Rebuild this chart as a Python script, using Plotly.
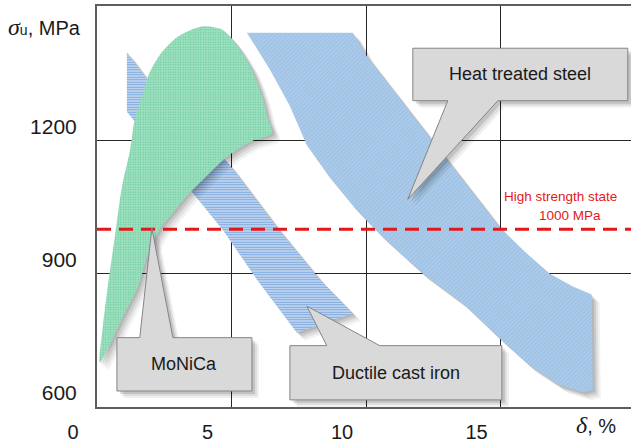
import plotly.graph_objects as go

# ---------------- data ----------------
x_ticks = [0, 5, 10, 15]
x_tick_labels = ["0", "5", "10", "15"]
y_ticks = [600, 900, 1200]
y_tick_labels = ["600", "900", "1200"]

strength_threshold = 1000  # MPa, "High strength state"

# Heat treated steel region (elongation %, UTS MPa)
steel_elong = [5.57, 9.51, 10.03, 14.97, 15.83, 16.83, 17.69, 18.39, 18.43, 18.06,
               17.2, 16.09, 14.86, 13.6, 12.11, 10.62, 9.66, 8.65, 7.8, 7.16, 6.42]
steel_uts = [1442, 1442, 1389, 1004, 953, 900, 871, 853, 638, 633,
             649, 693, 760, 833, 900, 982, 1042, 1116, 1189, 1278, 1360]

# Ductile cast iron region
iron_elong = [1.11, 1.78, 4.94, 6.69, 8.28, 9.51, 7.43, 5.94, 4.68, 3.45, 1.11]
iron_uts = [1398, 1344, 1144, 1004, 887, 811, 767, 887, 998, 1089, 1264]

# MoNiCa region
monica_elong = [0.1, 0.22, 0.4, 0.66, 0.92, 1.22, 1.41, 1.67, 1.96, 2.41, 3.0, 3.9,
                4.64, 5.13, 5.75, 6.13, 6.35, 6.5, 5.75, 5.12, 4.64, 3.9, 3.38,
                2.89, 2.33, 1.89, 1.52, 0.92, 0.4, 0.1]
monica_uts = [700, 782, 871, 982, 1093, 1176, 1249, 1300, 1353, 1398, 1433, 1456,
              1449, 1420, 1360, 1300, 1249, 1216, 1198, 1176, 1153, 1109, 1078,
              1042, 1000, 944, 871, 798, 731, 700]

# Callouts: (label, box x0, x1, box top y, box bottom y, pointer base xL, xR, side, tip x, tip y)
callouts = [
    ("Heat treated steel", 11.74, 19.73, 1407, 1289, 13.04, 14.90, "bottom", 11.55, 1067),
    ("MoNiCa", 0.74, 5.76, 756, 636, 1.59, 2.82, "top", 2.04, 1002),
    ("Ductile cast iron", 7.17, 15.05, 738, 616, 8.54, 10.51, "top", 7.80, 827),
]

# ---------------- layout geometry ----------------
W, H = 631, 443
ML, MR, MT, MB = 97, 0, 6, 31
XR = [0, 19.85]
YR = [600, 1502]
px_x = (W - ML - MR) / (XR[1] - XR[0])
px_y = (H - MT - MB) / (YR[1] - YR[0])


def shift(xs, ys, dx_px, dy_px):
    return [x + dx_px / px_x for x in xs], [y - dy_px / px_y for y in ys]


fig = go.Figure()


def add_region(xs, ys, pattern, shape_kind="linear"):
    for off, a in [(8, 0.05), (6, 0.07), (4, 0.09), (2, 0.10)]:
        sx, sy = shift(xs, ys, off, off)
        fig.add_trace(go.Scatter(x=sx, y=sy, mode="lines", fill="toself",
                                 fillcolor=f"rgba(0,0,0,{a})",
                                 line=dict(width=0, shape=shape_kind, smoothing=0.8),
                                 hoverinfo="skip", showlegend=False))
    fig.add_trace(go.Scatter(x=xs, y=ys, mode="lines", fill="toself",
                             fillcolor=pattern["bgcolor"],
                             fillpattern=pattern,
                             line=dict(width=0, shape=shape_kind, smoothing=0.8),
                             hoverinfo="skip", showlegend=False))


add_region(steel_elong, steel_uts,
           dict(shape="/", bgcolor="#abcbea", fgcolor="#9bbde2", size=3, solidity=0.3,
                fillmode="replace"))
add_region(iron_elong, iron_uts,
           dict(shape="-", bgcolor="#e6effa", fgcolor="#7aa6de", size=2.5, solidity=0.6,
                fillmode="replace"))
add_region(monica_elong, monica_uts,
           dict(shape=".", bgcolor="#9be0bf", fgcolor="#62c295", size=2.5, solidity=0.2,
                fillmode="replace"), shape_kind="spline")

shapes = []
# high-strength dashed line
shapes.append(dict(type="line", xref="paper", x0=0, x1=1, yref="y",
                   y0=strength_threshold, y1=strength_threshold,
                   line=dict(color="#e3181b", width=3, dash="14px,8px"), layer="above"))

annotations = []


def callout_path(x0, x1, yt, yb, bl, br, side, tx, ty, dx=0.0, dy=0.0):
    if side == "bottom":
        pts = [(x0, yt), (x1, yt), (x1, yb), (br, yb), (tx, ty), (bl, yb), (x0, yb)]
    else:
        pts = [(x0, yt), (bl, yt), (tx, ty), (br, yt), (x1, yt), (x1, yb), (x0, yb)]
    pts = [(px + dx, py + dy) for px, py in pts]
    return "M " + " L ".join(f"{px:.4f},{py:.4f}" for px, py in pts) + " Z"


for label, x0, x1, yt, yb, bl, br, side, tx, ty in callouts:
    for off, a in [(7, 0.06), (5, 0.08), (3, 0.12)]:
        shapes.append(dict(type="path", xref="x", yref="y",
                           path=callout_path(x0, x1, yt, yb, bl, br, side, tx, ty,
                                             off / px_x, -off / px_y),
                           fillcolor=f"rgba(0,0,0,{a})", line=dict(width=0),
                           layer="above"))
    shapes.append(dict(type="path", xref="x", yref="y",
                       path=callout_path(x0, x1, yt, yb, bl, br, side, tx, ty),
                       fillcolor="#d9d9d9", line=dict(color="#858585", width=1),
                       layer="above"))
    annotations.append(dict(x=(x0 + x1) / 2, y=(yt + yb) / 2, xref="x", yref="y",
                            xanchor="center", yanchor="middle",
                            text=label, showarrow=False,
                            font=dict(family="Liberation Sans, Arial", size=18,
                                      color="#1a1a1a")))

annotations += [
    dict(x=(560 - ML) / (W - ML - MR), y=(H - MB - 199) / (H - MT - MB),
         xref="paper", yref="paper", xanchor="center", yanchor="middle",
         text="High strength state", showarrow=False,
         font=dict(family="Liberation Sans, Arial", size=13.5, color="#e3181b")),
    dict(x=(570 - ML) / (W - ML - MR), y=(H - MB - 218) / (H - MT - MB),
         xref="paper", yref="paper", xanchor="center", yanchor="middle",
         text="1000 MPa", showarrow=False,
         font=dict(family="Liberation Sans, Arial", size=13.5, color="#e3181b")),
    dict(x=(83 - ML) / (W - ML - MR), y=(H - MB - 27) / (H - MT - MB),
         xref="paper", yref="paper", xanchor="right", yanchor="middle",
         text="<span style='font-family:Liberation Serif;font-style:italic;font-size:24px'>σ</span>"
              "<span style='font-size:14px'>u</span>, MPa",
         showarrow=False,
         font=dict(family="Liberation Sans, Arial", size=20, color="#1a1a1a")),
    dict(x=(596 - ML) / (W - ML - MR), y=(H - MB - 430) / (H - MT - MB),
         xref="paper", yref="paper", xanchor="center", yanchor="middle",
         text="<span style='font-family:Liberation Serif;font-style:italic;font-size:24px'>δ</span>, %",
         showarrow=False,
         font=dict(family="Liberation Sans, Arial", size=20, color="#1a1a1a")),
]

fig.update_layout(
    width=W, height=H,
    margin=dict(l=ML, r=MR, t=MT, b=MB, pad=0),
    paper_bgcolor="white", plot_bgcolor="white",
    showlegend=False,
    shapes=shapes,
    annotations=annotations,
    xaxis=dict(range=XR, tickvals=x_ticks, ticktext=x_tick_labels,
               showgrid=True, gridcolor="#262626", gridwidth=1.2,
               showline=True, linecolor="#5e5e5e", linewidth=2, mirror=True,
               zeroline=False, ticks="", ticklabelshift=-24, ticklabelstandoff=6,
               tickfont=dict(family="Liberation Sans, Arial", size=20, color="#1a1a1a"),
               fixedrange=True),
    yaxis=dict(range=YR, tickvals=y_ticks, ticktext=y_tick_labels,
               showgrid=True, gridcolor="#262626", gridwidth=1.2,
               showline=True, linecolor="#5e5e5e", linewidth=2, mirror=False,
               zeroline=False, ticks="", ticklabelshift=-14, ticklabelstandoff=14,
               tickfont=dict(family="Liberation Sans, Arial", size=21, color="#1a1a1a"),
               fixedrange=True),
)

fig.write_html("out.html",
               config={"displayModeBar": False},
               post_script="document.body.style.margin='0px';"
                           "document.body.style.overflow='hidden';")
